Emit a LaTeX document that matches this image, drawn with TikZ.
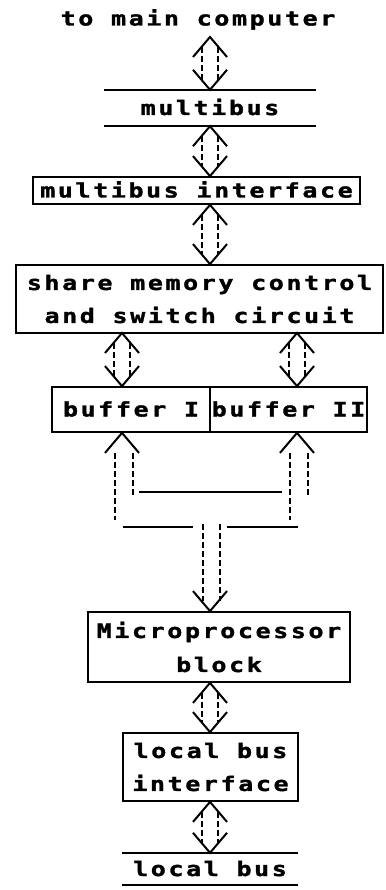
\documentclass[tikz,border=0pt]{standalone}
\usepackage{fontspec}
\newfontfamily\dotfont{DejaVu Sans Mono Bold}[LetterSpace=13,FakeStretch=1.25,FakeBold=1.6]
\usetikzlibrary{calc}
\tikzset{
  blk/.style={draw,line width=1.8pt,inner sep=0pt,align=center},
  oneline/.style={text height=14pt,text depth=0pt},
  chevron/.style={line width=2pt,line join=miter},
  stem/.style={line width=2pt,dash pattern=on 6pt off 3pt},
  busline/.style={line width=1.8pt},
}
% open double-headed bus arrow between two points on one vertical
\newcommand{\busarrow}[2]{%
  \draw[chevron] ($(#1)+(-17,20)$) -- (#1) -- ($(#1)+(17,20)$);
  \draw[chevron] ($(#2)+(-17,-20)$) -- (#2) -- ($(#2)+(17,-20)$);
  \draw[stem] ($(#1)+(-8,10)$) -- ($(#2)+(-8,-10)$);
  \draw[stem] ($(#1)+(8,10)$) -- ($(#2)+(8,-10)$);
}
\begin{document}
\begin{tikzpicture}[x=1pt,y=-1pt,font=\dotfont\fontsize{20pt}{33pt}\selectfont]
  \useasboundingbox (0,0) rectangle (385,890);
  \coordinate (col) at (210,0);
  % top of the stack
  \node[oneline,inner sep=0pt] (title) at (198,18.5) {to main computer};
  \coordinate (host) at (210,37);
  \node[oneline,inner sep=0pt,minimum width=212pt,minimum height=36pt] (mbus) at (210,108) {multibus};
  \draw[busline] (mbus.north west) -- (mbus.north east);
  \draw[busline] (mbus.south west) -- (mbus.south east);
  \node[blk,oneline,minimum width=327pt,minimum height=27pt] (mbi) at (196.5,190.5) {multibus interface};
  \node[blk,minimum width=367pt,minimum height=68pt] (smc) at (199.5,299) {share memory control\\and switch circuit};
  % the two buffers side by side
  \node[blk,oneline,minimum width=158pt,minimum height=45pt] (bufI) at (131,409.5) {buffer I};
  \node[blk,oneline,minimum width=157pt,minimum height=45pt] (bufII) at (288.5,409.5) {buffer II};
  % lower part
  \node[blk,minimum width=262pt,minimum height=70pt] (mpb) at (219,647) {Microprocessor\\[1pt]block};
  \node[blk,minimum width=175pt,minimum height=68pt] (lbi) at (210.5,767) {local bus\\interface};
  \node[oneline,inner sep=0pt,minimum width=176pt,minimum height=32pt] (lbus) at (210,869) {local bus};
  \draw[busline] (lbus.north west) -- (lbus.north east);
  \draw[busline] (lbus.south west) -- (lbus.south east);
  % bus arrows along the main column
  \busarrow{host}{mbus.north}
  \busarrow{col |- mbus.south}{col |- mbi.north}
  \busarrow{col |- mbi.south}{col |- smc.north}
  \coordinate (sL) at (122,333);
  \coordinate (sR) at (297,333);
  \busarrow{sL}{sL |- bufI.north}
  \busarrow{sR}{sR |- bufII.north}
  % the two buffer buses merge into one towards the processor
  \coordinate (pL) at (sL |- bufI.south);
  \coordinate (pR) at (sR |- bufII.south);
  \foreach \p in {pL,pR}{
    \draw[chevron] ($(\p)+(-17,20)$) -- (\p) -- ($(\p)+(17,20)$);
    \draw[stem] ($(\p)+(-7,20)$) -- ($(\p)+(-7,87)$);
    \draw[stem] ($(\p)+(11,20)$) -- ($(\p)+(11,63)$);
  }
  \draw[busline] ($(pL)+(17,59)$) -- ($(pR)+(-15,59)$);
  \draw[busline] ($(pL)+(1,94)$) -- ($(pL)+(71,94)$);
  \draw[busline] ($(pR)+(-70,94)$) -- ($(pR)+(1,94)$);
  \coordinate (mtop) at (col |- mpb.north);
  \draw[chevron] ($(mtop)+(-17,-20)$) -- (mtop) -- ($(mtop)+(17,-20)$);
  \draw[stem] ($(mtop)+(-7,-87)$) -- ($(mtop)+(-7,-10)$);
  \draw[stem] ($(mtop)+(10,-87)$) -- ($(mtop)+(10,-10)$);
  \busarrow{col |- mpb.south}{col |- lbi.north}
  \busarrow{col |- lbi.south}{lbus.north}
\end{tikzpicture}
\end{document}
